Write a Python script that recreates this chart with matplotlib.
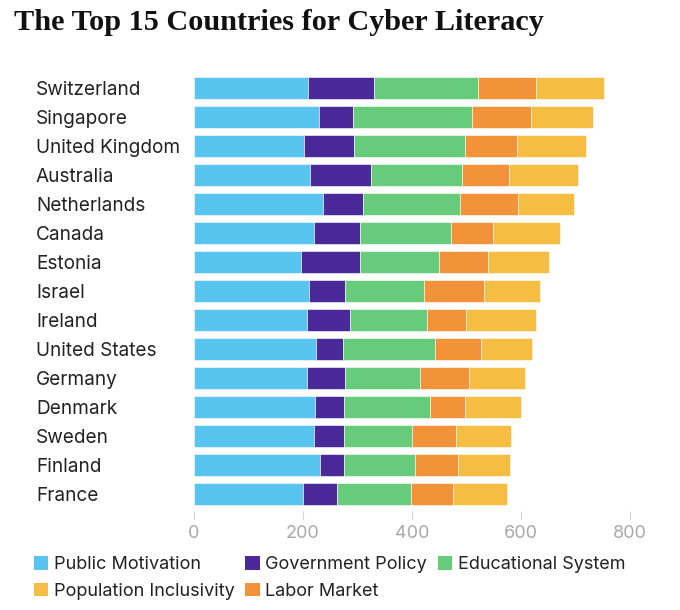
import matplotlib
matplotlib.use("Agg")
import matplotlib.pyplot as plt
import numpy as np
from matplotlib.patches import Patch

# --- dados ---
countries = ["Switzerland", "Singapore", "United Kingdom", "Australia", "Netherlands",
             "Canada", "Estonia", "Israel", "Ireland", "United States",
             "Germany", "Denmark", "Sweden", "Finland", "France"]

public_motivation = [210, 230, 202, 213, 236, 221, 196, 211, 207, 224, 208, 222, 220, 231, 200]
government_policy = [120, 62, 92, 112, 75, 83, 108, 67, 79, 50, 70, 53, 56, 45, 62]
educational_system = [191, 218, 204, 167, 178, 167, 145, 145, 142, 168, 137, 159, 125, 130, 137]
labor_market = [107, 109, 95, 86, 106, 77, 91, 109, 72, 84, 90, 63, 79, 78, 76]
population_inclusivity = [125, 114, 126, 127, 102, 123, 112, 103, 127, 95, 103, 104, 101, 96, 100]

series = [
    ("Public Motivation", public_motivation, "#57C5EF"),
    ("Government Policy", government_policy, "#4A2A98"),
    ("Educational System", educational_system, "#66CB7A"),
    ("Labor Market", labor_market, "#F29339"),
    ("Population Inclusivity", population_inclusivity, "#F5BD42"),
]

x_ticks = [0, 200, 400, 600, 800]

fig = plt.figure(figsize=(6.8, 6.1), dpi=100)
ax = fig.add_axes([0.2853, 0.1616, 0.641, 0.7227])

y = np.arange(len(countries))
left = np.zeros(len(countries))
for name, vals, color in series:
    vals = np.array(vals, dtype=float)
    ax.barh(y, vals, left=left, height=0.76, color=color, edgecolor="white", linewidth=0.4)
    left += vals

ax.set_xlim(0, 800)
ax.set_ylim(14.6, -0.6)
ax.set_xticks(x_ticks)
ax.set_xticklabels([str(t) for t in x_ticks], fontsize=13, family="Inter", color="#A8A8A8")
ax.tick_params(axis="x", length=6, width=0.8, color="#D0D0D0", pad=4)

ax.set_yticks(y)
ax.set_yticklabels(countries, fontsize=13.7, family="Inter", color="#222222", ha="left")
ax.tick_params(axis="y", length=0, pad=113.8)

for s in ax.spines.values():
    s.set_visible(False)

fig.text(14 / 680, 1 - 23 / 610, "The Top 15 Countries for Cyber Literacy",
         fontsize=21.8, fontweight="bold", family="Liberation Serif", va="center", ha="left",
         color="#111111")

# legenda em ordem de linha (matplotlib preenche por coluna)
lookup = {n: c for n, v, c in series}
order = ["Public Motivation", "Population Inclusivity", "Government Policy",
         "Labor Market", "Educational System"]
handles = [Patch(facecolor=lookup[n], edgecolor="none", label=n) for n in order]
leg = fig.legend(handles=handles, ncol=3, loc="upper left",
                 bbox_to_anchor=(34 / 680, 1 - 556 / 610), frameon=False,
                 prop={"family": "Inter", "size": 13},
                 handlelength=0.8, handleheight=0.8, handletextpad=0.3,
                 columnspacing=0.6, labelspacing=0.52, borderaxespad=0, borderpad=0)
for t in leg.get_texts():
    t.set_color("#222222")

fig.savefig("out.png", dpi=100)
